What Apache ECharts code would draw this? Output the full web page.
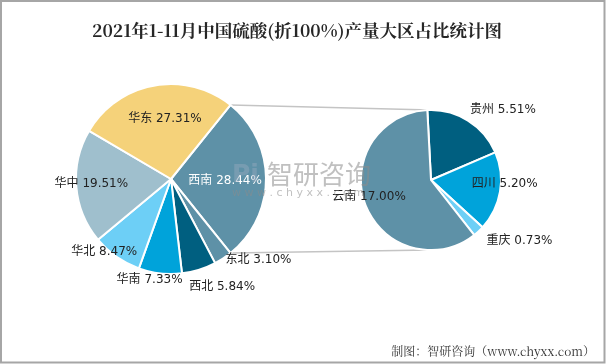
<!DOCTYPE html>
<html>
<head>
<meta charset="utf-8">
<script src="https://cdn.jsdelivr.net/npm/echarts@6/dist/echarts.min.js"></script>
<style>
html,body{margin:0;padding:0;background:#fff;}
#chart{width:606px;height:364px;}
</style>
</head>
<body>
<div id="chart"></div>
<script>
// ---- data ----
const titleText = '2021年1-11月中国硫酸(折100%)产量大区占比统计图';
const sourceText = '制图：智研咨询（www.chyxx.com）';
const regions = ['西南', '东北', '西北', '华南', '华北', '华中', '华东'];
const regionValues = [28.44, 3.10, 5.84, 7.33, 8.47, 19.51, 27.31];
const provinces = ['贵州', '四川', '重庆', '云南'];
const provinceValues = [5.51, 5.20, 0.73, 17.00];

// ---- style / layout config ----
const regionColors = ['#5E91A7', '#5E91A7', '#005F80', '#00A3DA', '#6DCFF6', '#9FBFCD', '#F5D27A'];
const provinceColors = ['#005F80', '#00A3DA', '#6DCFF6', '#5E91A7'];
const leftCenter = [171, 179], leftR = 95;
const rightCenter = [431, 180], rightR = 70;
// label placement: [angle offset deg, radius factor]
const leftLabelPlace = [[2, 0.57], [-14, 1.255], [-8.2, 1.257], [5.4, 1.087], [7.5, 1.04], [1, 0.84], [4.6, 0.635]];
const rightLabelPlace = [[14, 1.43], [-6.3, 1.054], [-12.7, 1.533], [5.6, 0.917]];

const labelFont = "'DejaVu Sans', 'Noto Sans CJK SC', sans-serif";

const leftTotal = regionValues.reduce((a, b) => a + b, 0);
const leftStart = regionValues[0] / leftTotal * 180; // first slice centered at 3 o'clock
const rightStart = 93;

function midAngles(values, startAngle) {
  const total = values.reduce((a, b) => a + b, 0);
  let acc = 90 - startAngle;
  return values.map(v => {
    const span = v / total * 360;
    const m = acc + span / 2;
    acc += span;
    return m;
  });
}
function boundaryAngle(values, startAngle, idx) {
  const total = values.reduce((a, b) => a + b, 0);
  let acc = 90 - startAngle;
  for (let i = 0; i < idx; i++) acc += values[i] / total * 360;
  return acc;
}
function polar(center, r, degCw) {
  const a = degCw * Math.PI / 180;
  return [center[0] + r * Math.sin(a), center[1] - r * Math.cos(a)];
}

const leftMids = midAngles(regionValues, leftStart);
const rightMids = midAngles(provinceValues, rightStart);

function makeLayout(mids, place, center, r) {
  return function (params) {
    const i = params.dataIndex;
    const p = polar(center, r * place[i][1], mids[i] + place[i][0]);
    return { x: p[0], y: p[1], align: 'center', verticalAlign: 'middle', hideOverlap: false };
  };
}

const chart = echarts.init(document.getElementById('chart'), null, { renderer: 'canvas' });

const topA = boundaryAngle(regionValues, leftStart, 0);
const botA = boundaryAngle(regionValues, leftStart, 1);
const lp1 = polar(leftCenter, leftR, topA);
const lp2 = polar(leftCenter, leftR, botA);
const rp1 = polar(rightCenter, rightR, 0);
const rp2 = polar(rightCenter, rightR, 180);

const option = {
  backgroundColor: '#ffffff',
  animation: false,
  title: {
    text: titleText,
    left: 87,
    top: 17,
    textStyle: {
      fontSize: 17.5,
      fontWeight: 'bold',
      color: '#262626',
      fontFamily: "'Noto Serif CJK SC', 'Liberation Serif', 'Noto Sans CJK SC', serif"
    }
  },
  graphic: [
    { type: 'rect', z: 0, silent: true,
      shape: { x: 1, y: 1, width: 603.5, height: 361.5 },
      style: { fill: 'none', stroke: '#a6a6a6', lineWidth: 2 } },
    { type: 'line', z: 1, silent: true,
      shape: { x1: lp1[0], y1: lp1[1], x2: rp1[0], y2: rp1[1] },
      style: { stroke: '#c4c4c4', lineWidth: 1.5 } },
    { type: 'line', z: 1, silent: true,
      shape: { x1: lp2[0], y1: lp2[1], x2: rp2[0], y2: rp2[1] },
      style: { stroke: '#c4c4c4', lineWidth: 1.5 } },
    { type: 'text', z: 100, silent: true, left: 232, top: 163,
      style: { text: 'Pi', font: "bold 25px 'DejaVu Sans', sans-serif", fill: 'rgba(150,170,190,0.45)' } },
    { type: 'text', z: 100, silent: true, left: 267, top: 161,
      style: { text: '智研咨询', font: "26px 'Noto Sans CJK SC', sans-serif", fill: 'rgba(140,140,140,0.55)' } },
    { type: 'text', z: 100, silent: true, left: 232, top: 188,
      style: { text: 'w w w . c h y x x . c o m', font: "11px 'DejaVu Sans', sans-serif", fill: 'rgba(140,140,140,0.55)' } },
    { type: 'text', z: 100, silent: true, right: 11, top: 345,
      style: { text: sourceText, font: "12px 'Noto Serif CJK SC', 'Noto Sans CJK SC', serif", fill: '#333' } }
  ],
  series: [
    {
      type: 'pie',
      z: 2,
      center: leftCenter,
      radius: leftR,
      startAngle: leftStart,
      clockwise: true,
      avoidLabelOverlap: false,
      itemStyle: { borderColor: '#fff', borderWidth: 2 },
      label: {
        show: true, position: 'inside',
        formatter: p => p.name + ' ' + p.value.toFixed(2) + '%',
        fontSize: 12, color: '#222', fontFamily: labelFont
      },
      labelLine: { show: false },
      labelLayout: makeLayout(leftMids, leftLabelPlace, leftCenter, leftR),
      data: regions.map((n, i) => ({
        name: n, value: regionValues[i],
        itemStyle: { color: regionColors[i] },
        label: i === 0 ? { color: '#fff' } : undefined
      }))
    },
    {
      type: 'pie',
      z: 2,
      center: rightCenter,
      radius: rightR,
      startAngle: rightStart,
      clockwise: true,
      avoidLabelOverlap: false,
      itemStyle: { borderColor: '#fff', borderWidth: 2 },
      label: {
        show: true, position: 'inside',
        formatter: p => p.name + ' ' + p.value.toFixed(2) + '%',
        fontSize: 12, color: '#222', fontFamily: labelFont
      },
      labelLine: { show: false },
      labelLayout: makeLayout(rightMids, rightLabelPlace, rightCenter, rightR),
      data: provinces.map((n, i) => ({
        name: n, value: provinceValues[i],
        itemStyle: { color: provinceColors[i] }
      }))
    }
  ]
};
chart.setOption(option);
</script>
</body>
</html>
